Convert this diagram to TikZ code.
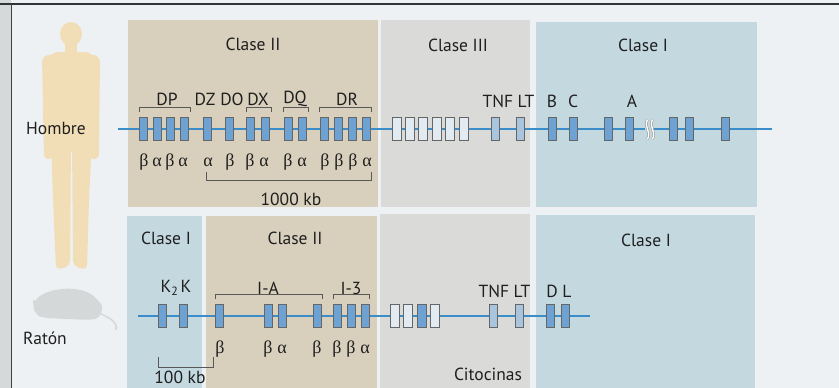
\documentclass[tikz,border=0pt]{standalone}
\usepackage{fontspec}
\setmainfont{PT Sans}
\newfontfamily\grkfont{Liberation Serif}
\begin{document}
\begin{tikzpicture}[x=1pt,y=-1pt,
  lbl/.style={text=black!88, font=\fontsize{17.5}{20}\selectfont, inner sep=0pt},
  grk/.style={text=black!88, font=\grkfont\fontsize{18}{20}\selectfont, inner sep=0pt},
  chrom/.style={draw=chromblue, line width=2.2pt},
  gene/.style={rectangle, draw=black!60, line width=0.6pt, fill=genemid, minimum width=8pt, minimum height=23pt, inner sep=0pt},
  genepale/.style={gene, fill=genepale, minimum width=9pt},
  genelight/.style={gene, fill=genelight},
  brk/.style={draw=black!65, line width=0.7pt},
  brkcurve/.style={draw=black!45, line width=0.5pt, double=white, double distance=1.4pt},
]
\definecolor{paper}{HTML}{EEF1F3}
\definecolor{edgegrey}{HTML}{D6D9DA}
\definecolor{tanbox}{HTML}{D8D0BC}
\definecolor{greybox}{HTML}{DADAD8}
\definecolor{bluebox}{HTML}{C4D8E0}
\definecolor{chromblue}{HTML}{3A8DC8}
\definecolor{genemid}{HTML}{6DA2D2}
\definecolor{genepale}{HTML}{E2EBF2}
\definecolor{genelight}{HTML}{A9C5DE}
\definecolor{skin}{HTML}{F2DEB6}
\definecolor{mouse}{HTML}{D5D8D9}
\useasboundingbox (0,0) rectangle (839,388);
% page
\fill[paper] (0,0) rectangle (839,388);
\fill[edgegrey] (0,0) rectangle (11,388);
\draw[black!80, line width=1.4pt] (0,4) -- (839,4);
\draw[black!75, line width=1pt] (11,4) -- (11,388);

% human silhouette
\begin{scope}[fill=skin]
  \fill (71,34) ellipse [x radius=11, y radius=12];
  \fill (65,42) rectangle (77,54);
  \fill[rounded corners=9] (49,52) rectangle (94,152);
  \fill[rounded corners=6] (42,56) -- (54,54) -- (55,158) -- (44,160) -- cycle;
  \fill[rounded corners=6] (88,54) -- (100,56) -- (99,160) -- (88,158) -- cycle;
  \fill[rounded corners=5] (51,140) -- (71,140) -- (70,266) -- (56,270) -- (53,200) -- cycle;
  \fill[rounded corners=5] (72,140) -- (92,140) -- (89,200) -- (87,270) -- (73,266) -- cycle;
\end{scope}
% mouse silhouette
\fill[mouse, rounded corners=6] (33,304) .. controls (45,288) and (80,284) .. (98,300)
  .. controls (104,308) and (100,318) .. (90,320) -- (45,318) .. controls (38,316) and (34,310) .. (33,304) -- cycle;
\draw[mouse, line width=1.5pt] (97,312) .. controls (110,318) and (118,322) .. (116,330);

% class regions, upper row
\fill[tanbox]  (128,20) rectangle (378,207);
\fill[greybox] (381,20) rectangle (530,207);
\fill[bluebox] (536,22) rectangle (757,207);
% class regions, lower row
\fill[bluebox] (127,216) rectangle (202,388);
\fill[tanbox]  (206,216) rectangle (377,388);
\fill[greybox] (380,214) rectangle (530,388);
\fill[bluebox] (536,215) rectangle (755,388);

\node[lbl] (c2a) at (253,44) {Clase II};
\node[lbl] (c3a) at (458,45) {Clase III};
\node[lbl] (c1a) at (643,45) {Clase I};
\node[lbl] (c1b) at (166,238) {Clase I};
\node[lbl] (c2b) at (295,238) {Clase II};
\node[lbl] (c1c) at (646,240) {Clase I};

\node[lbl] (hombre) at (56,128) {Hombre};
\node[lbl] (raton) at (45,338) {Ratón};

% human chromosome
\coordinate (hs) at (118,129);
\coordinate (he) at (772,129);
\draw[chrom] (hs) -- (he);
\foreach \x [count=\i] in {143,157,170,184,207,229,250,265,288,302,324,338,352,366}
  \node[gene] (hII\i) at (\x,129) {};
\foreach \x [count=\i] in {397,410,423,437,450,464}
  \node[genepale] (hIII\i) at (\x,129) {};
\node[genelight] (htnf) at (495,129) {};
\node[genelight] (hlt) at (520,129) {};
\foreach \x [count=\i] in {552,573,608,629,673,689,725}
  \node[gene] (hI\i) at (\x,129) {};
% break in the human map
\fill[bluebox] (645,125) rectangle (654,133);
\draw[brkcurve] (647.5,120) .. controls (643,126) and (652,132) .. (647.5,139);
\draw[brkcurve] (652.5,120) .. controls (648,126) and (657,132) .. (652.5,139);

% human gene names
\node[lbl] at (167,99) {DP};
\node[lbl] at (205,99) {DZ};
\node[lbl] at (232,99) {DO};
\node[lbl] at (258,99) {DX};
\node[lbl] at (295,99) {DQ};
\node[lbl] at (347,99) {DR};
\node[lbl] at (498,101) {TNF};
\node[lbl] at (526,101) {LT};
\node[lbl] at (552,101) {B};
\node[lbl] at (573,101) {C};
\node[lbl] at (632,101) {A};
\draw[brk] (139,112) |- (190,107) -- (190,112);
\draw[brk] (246,112) |- (271,107) -- (271,112);
\draw[brk] (283,112) |- (308,107) -- (308,112);
\draw[brk] (319,112) |- (371,107) -- (371,112);

% human chain types
\foreach \x/\g in {144/β,157/α,170/β,183/α,208/α,230/β,250/β,264/α,288/β,302/α,325/β,339/β,353/β,367/α}
  \node[grk] at (\x,162) {\g};
\draw[brk] (206,172) |- (371,180) -- (371,172);
\node[lbl] (kb1000) at (291,199) {1000 kb};

% mouse chromosome
\coordinate (ms) at (138,316);
\coordinate (me) at (590,316);
\draw[chrom] (ms) -- (me);
\foreach \x [count=\i] in {162,183,219,268,282,317,337,351,365}
  \node[gene] (mII\i) at (\x,316) {};
\node[genepale] (mIII1) at (395,316) {};
\node[genepale] (mIII2) at (408,316) {};
\node[gene, minimum width=9pt] (mIII3) at (422,316) {};
\node[genepale] (mIII4) at (435,316) {};
\node[genelight] (mtnf) at (493,316) {};
\node[genelight] (mlt) at (519,316) {};
\node[gene] (md) at (550,316) {};
\node[gene] (ml) at (565,316) {};

% mouse gene names
\node[lbl] at (176,288) {K{\fontsize{12}{12}\selectfont\raisebox{-3pt}{2}}\,K};
\node[lbl] at (268,288) {I-A};
\node[lbl] at (351,288) {I-3};
\node[lbl] at (494,291) {TNF};
\node[lbl] at (522,291) {LT};
\node[lbl] at (552,291) {D};
\node[lbl] at (567,291) {L};
\draw[brk] (215,299) |- (322,294) -- (322,299);
\draw[brk] (333,299) |- (369,294) -- (369,299);

% mouse chain types
\foreach \x/\g in {220/β,268/β,282/α,317/β,337/β,351/β,365/α}
  \node[grk] at (\x,349) {\g};
\draw[brk] (158,357) |- (213,367) -- (213,357);
\node[lbl] (kb100) at (180,377) {100 kb};
\node[lbl] (cito) at (488,374) {Citocinas};
\end{tikzpicture}
\end{document}
